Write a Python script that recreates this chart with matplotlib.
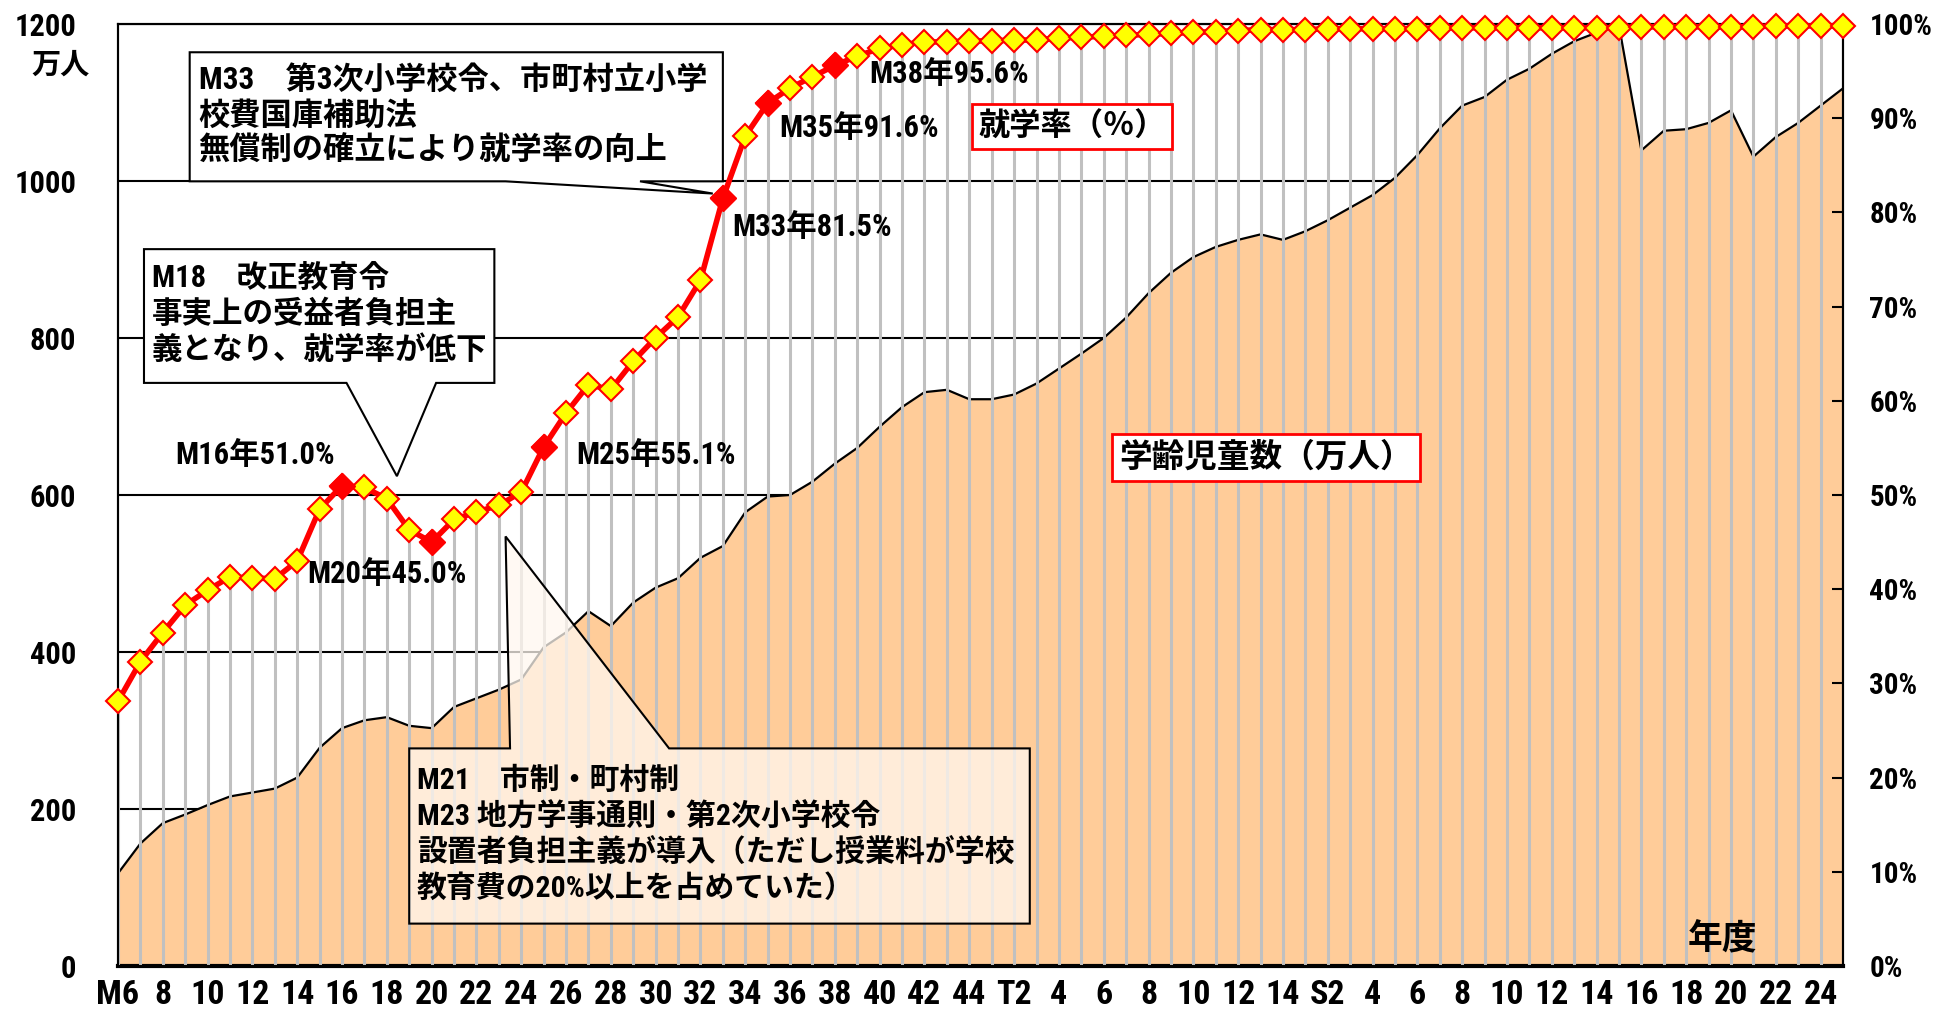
import matplotlib
matplotlib.use('Agg')
import matplotlib.pyplot as plt
from matplotlib.patches import Polygon
import numpy as np

# one entry per year, M6 (1873) ... S25 (1950)
children = [118, 156, 182, 193, 205, 216, 221, 226, 240, 278,
            303, 313, 317, 306, 303, 330, 341, 352, 365, 406,
            425, 452, 433, 463, 482, 494, 520, 535, 578, 598,
            600, 617, 640, 660, 687, 712, 731, 734, 722, 722,
            728, 742, 761, 780, 800, 826, 857, 883, 903, 916,
            925, 932, 925, 936, 950, 966, 982, 1004, 1033, 1067,
            1096, 1107, 1129, 1143, 1162, 1178, 1189, 1198, 1039, 1064,
            1066, 1074, 1090, 1031, 1056, 1074, 1096, 1118]

rate = [28.1, 32.3, 35.4, 38.3, 39.9, 41.3, 41.2, 41.1, 43.0, 48.5,
        51.0, 50.8, 49.6, 46.3, 45.0, 47.4, 48.2, 48.9, 50.3, 55.1,
        58.7, 61.7, 61.2, 64.2, 66.7, 68.9, 72.8, 81.5, 88.1, 91.6,
        93.2, 94.4, 95.6, 96.6, 97.4, 97.8, 98.1, 98.1, 98.2, 98.2,
        98.3, 98.3, 98.5, 98.6, 98.7, 98.8, 98.9, 99.0, 99.1, 99.2,
        99.3, 99.4, 99.4, 99.4, 99.5, 99.5, 99.5, 99.5, 99.5, 99.6,
        99.6, 99.6, 99.6, 99.6, 99.6, 99.6, 99.6, 99.6, 99.7, 99.7,
        99.7, 99.7, 99.7, 99.7, 99.8, 99.8, 99.8, 99.8]

# tick labels, every second year
tick_labels = ['M6', '8', '10', '12', '14', '16', '18', '20', '22', '24',
               '26', '28', '30', '32', '34', '36', '38', '40', '42', '44',
               'T2', '4', '6', '8', '10', '12', '14',
               'S2', '4', '6', '8', '10', '12', '14', '16', '18', '20', '22', '24']

# highlighted years (index into the arrays) and their labels
highlight_idx = [10, 14, 19, 27, 29, 32]
highlight_text = ['M16年51.0%', 'M20年45.0%', 'M25年55.1%',
                  'M33年81.5%', 'M35年91.6%', 'M38年95.6%']
label_pos = [(6.1, 54.2), (12.0, 41.6), (24.0, 54.2),
             (31.0, 78.4), (33.1, 89.0), (37.1, 94.7)]

NARROW = ['Roboto Condensed', 'Noto Sans CJK JP', 'DejaVu Sans']
CJK = ['Noto Sans CJK JP', 'DejaVu Sans']

x = np.arange(len(children))

fig = plt.figure(figsize=(19.44, 10.15), dpi=100)
ax = fig.add_axes([118 / 1944, 1 - 966 / 1015, (1843 - 118) / 1944, (966 - 24) / 1015])
ax2 = ax.twinx()

# school-age children area
ax.set_axisbelow(True)
ax.yaxis.grid(True, color='black', lw=1.5)
ax.fill_between(x, children, color='#FFCC99', lw=0, zorder=2)
ax.plot(x, children, color='black', lw=1.6, zorder=3)
ax.set_ylim(0, 1200)
ax.set_xlim(0, len(children) - 1)
ax.set_yticks(range(0, 1201, 200))
ax.set_yticklabels([str(v) for v in range(0, 1201, 200)],
                   fontsize=22, fontweight='bold', family=NARROW)
ax.tick_params(axis='y', direction='in', length=0, pad=30)
ax.set_xticks(x[::2])
ax.set_xticklabels(tick_labels, fontsize=24.5, fontweight='bold', family=NARROW)
ax.tick_params(axis='x', length=0, pad=9)
for s in ax.spines.values():
    s.set_linewidth(1.5)
ax.spines['bottom'].set_linewidth(3)

# enrolment rate
ax2.vlines(x, 0, rate, color='#C0C0C0', lw=2.2, zorder=2)
ax2.plot(x, rate, color='#FF0000', lw=4, zorder=3, clip_on=False)
ax2.plot(x, rate, ls='none', marker='D', ms=12.5, mfc='#FFFF00', mec='#FF0000',
         mew=1.5, zorder=4, clip_on=False)
ax2.plot(x[highlight_idx], np.array(rate)[highlight_idx], ls='none', marker='D',
         ms=13, mfc='#FF0000', mec='#FF0000', zorder=5)
ax2.set_ylim(0, 100)
ax2.set_yticks(range(0, 101, 10))
ax2.set_yticklabels(['%d%%' % v for v in range(0, 101, 10)],
                    fontsize=21, fontweight='bold', family=NARROW)
ax2.tick_params(axis='y', direction='in', length=8, width=1.5, pad=19)
for s in ax2.spines.values():
    s.set_linewidth(1.5)

for (tx, ty), t in zip(label_pos, highlight_text):
    ax2.text(tx, ty, t, ha='center', va='center', fontsize=22, fontweight='bold',
             family=NARROW, zorder=6)


def callout(pts, fc, alpha=1.0):
    ax2.add_patch(Polygon(pts, closed=True, fc=fc, ec='none', alpha=alpha, zorder=7))
    ax2.add_patch(Polygon(pts, closed=True, fc='none', ec='black', lw=1.5, zorder=8))


# M33 box, wedge on bottom edge
callout([(3.2, 97.0), (27.0, 97.0), (27.0, 83.3), (23.3, 83.3), (26.55, 82.0),
         (17.3, 83.3), (3.2, 83.3)], 'white')
ax2.text(3.6, 90.3, 'M33\u3000第3次小学校令、市町村立小学\n校費国庫補助法\n無償制の確立により就学率の向上',
         ha='left', va='center', fontsize=22.5, fontweight='bold', family=NARROW,
         linespacing=1.22, zorder=9)

# M18 box, wedge on bottom edge
callout([(1.16, 76.1), (16.8, 76.1), (16.8, 61.9), (14.2, 61.9), (12.45, 52.0),
         (10.2, 61.9), (1.16, 61.9)], 'white')
ax2.text(1.5, 69.2, 'M18\u3000改正教育令\n事実上の受益者負担主\n義となり、就学率が低下',
         ha='left', va='center', fontsize=22, fontweight='bold', family=NARROW,
         linespacing=1.25, zorder=9)

# M21/M23 box, wedge on top edge
callout([(13.0, 4.5), (13.0, 23.1), (17.5, 23.1), (17.3, 45.6), (24.6, 23.1),
         (40.7, 23.1), (40.7, 4.5)], '#FFF8F0', alpha=0.75)
ax2.text(13.35, 13.9, 'M21\u3000市制・町村制\nM23 地方学事通則・第2次小学校令\n'
         '設置者負担主義が導入（ただし授業料が学校\n教育費の20%以上を占めていた）',
         ha='left', va='center', fontsize=21.5, fontweight='bold', family=NARROW,
         linespacing=1.3, zorder=9)

ax2.text(42.6, 89.1, '就学率（％）', ha='center', va='center', fontsize=22.5,
         fontweight='bold', family=CJK, zorder=9,
         bbox=dict(boxstyle='square,pad=0.2', fc='white', ec='#FF0000', lw=2))
ax2.text(51.25, 54.0, '学齢児童数（万人）', ha='center', va='center', fontsize=23.5,
         fontweight='bold', family=CJK, zorder=9,
         bbox=dict(boxstyle='square,pad=0.22', fc='white', ec='#FF0000', lw=2))
ax2.text(71.6, 2.9, '年度', ha='center', va='center', fontsize=25,
         fontweight='bold', family=CJK, zorder=9)

fig.text(61 / 1944, 1 - 65 / 1015, '万人', ha='center', va='center', fontsize=21,
         fontweight='bold', family=CJK)

fig.savefig('out.png', dpi=100)
